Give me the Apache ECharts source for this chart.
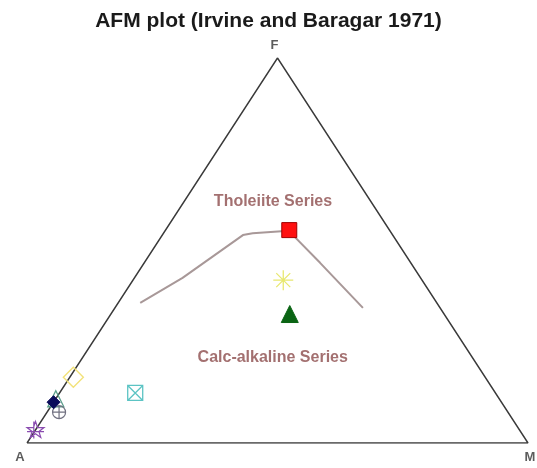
<!DOCTYPE html>
<html>
<head>
<meta charset="utf-8">
<script src="https://cdn.jsdelivr.net/npm/echarts@6/dist/echarts.min.js"></script>
<style>
  html, body { margin: 0; padding: 0; background: #fff; }
  #chart { width: 537px; height: 468px; }
</style>
</head>
<body>
<div id="chart"></div>
<script>
// AFM ternary values, all in % [A, F, M]
var vertexNames = ['A', 'F', 'M'];

// Irvine & Baragar boundary curve
var curveA = [59.2, 47.5, 29.9, 27.7, 20.2, 18.1, 15.4];
var curveF = [36.4, 42.9, 54.0, 54.5, 55.1, 46.8, 35.1];
var curveM = [4.4, 9.6, 16.1, 17.8, 24.7, 35.1, 49.5];

// samples
var sampleNames = ['s1', 's2', 's3', 's4', 's5', 's6', 's7', 's8', 's9'];
var sampleA = [20.0, 27.7, 30.8, 71.9, 82.2, 88.5, 89.4, 89.6, 96.6];
var sampleF = [55.3, 42.3, 33.5, 13.0, 17.1, 11.5, 10.6, 8.0, 3.4];
var sampleM = [24.7, 30.0, 35.7, 15.1, 0.7, 0.0, 0.0, 2.4, 0.0];

var fieldNames = ['Tholeiite Series', 'Calc-alkaline Series'];
var fieldA = [19.6, 39.8];
var fieldF = [62.6, 22.3];
var fieldM = [17.8, 37.9];

// ternary -> plot coords (x 0..100, y 0..100, apex at x=50)
function toXY(a, f, m) {
    var s = a + f + m;
    return [(m + f / 2) / s * 100, f / s * 100];
}

var chart = echarts.init(document.getElementById('chart'));

var curve = [];
for (var i = 0; i < curveA.length; i++) curve.push(toXY(curveA[i], curveF[i], curveM[i]));

var frame = [toXY(100, 0, 0), toXY(0, 100, 0), toXY(0, 0, 100), toXY(100, 0, 0)];

// marker styles per sample
var crossBox = 'path://M0,0L10,0L10,10L0,10ZM0,0L10,10M10,0L0,10';
var asterisk = 'path://M5,0L5,10M0,5L10,5M1.5,1.5L8.5,8.5M8.5,1.5L1.5,8.5';
var circCross = 'path://M0,5A5,5,0,1,0,10,5A5,5,0,1,0,0,5ZM5,0L5,10M0,5L10,5';
var starPath = 'path://M5,0L6.2,3.6L10,3.6L7,5.9L8.1,9.5L5,7.3L1.9,9.5L3,5.9L0,3.6L3.8,3.6ZM0,6L10,6M4,0L4,10';
var sampleStyle = [
    {symbol: 'rect', size: 15, color: '#ff1010', border: '#a00000', bw: 1},
    {symbol: asterisk, size: 20, color: 'none', border: '#e8e870', bw: 1.3},
    {symbol: 'triangle', size: 17, color: '#0a6414', border: '#0a6414', bw: 1},
    {symbol: crossBox, size: 15, color: 'none', border: '#5cc4c4', bw: 1.3},
    {symbol: 'diamond', size: 20, color: 'none', border: '#f2e27a', bw: 1.4},
    {symbol: 'triangle', size: 16, color: 'none', border: '#5a9e8a', bw: 1.3},
    {symbol: 'diamond', size: 13, color: '#0a0a5a', border: '#0a0a5a', bw: 1},
    {symbol: circCross, size: 13, color: 'none', border: '#707080', bw: 1.2},
    {symbol: starPath, size: 17, color: 'none', border: '#8a4cb0', bw: 1.2}
];

var series = [
    {
        type: 'line', data: frame, symbol: 'none', silent: true,
        lineStyle: {color: '#3a3a3a', width: 1.4}, z: 2
    },
    {
        type: 'line', data: curve, symbol: 'none', silent: true,
        lineStyle: {color: '#a89898', width: 2}, z: 3
    },
    {
        type: 'scatter', symbolSize: 0, silent: true, z: 4,
        data: [
            {value: toXY(100, 0, 0), label: {formatter: vertexNames[0], position: 'bottom', offset: [-7, 3]}},
            {value: toXY(0, 100, 0), label: {formatter: vertexNames[1], position: 'top', offset: [-3, -1]}},
            {value: toXY(0, 0, 100), label: {formatter: vertexNames[2], position: 'bottom', offset: [2, 3]}}
        ],
        label: {show: true, color: '#333', fontSize: 13, fontWeight: 'bold', fontFamily: 'Liberation Sans'}
    },
    {
        type: 'scatter', symbolSize: 0, silent: true, z: 4,
        data: fieldNames.map(function (n, k) {
            return {value: toXY(fieldA[k], fieldF[k], fieldM[k]), name: n};
        }),
        label: {
            show: true, position: 'inside', formatter: '{b}',
            color: '#8c4c4c', fontSize: 16, fontWeight: 'bold', fontFamily: 'Liberation Sans'
        }
    }
];

for (var j = 0; j < sampleNames.length; j++) {
    var st = sampleStyle[j];
    series.push({
        type: 'scatter', name: sampleNames[j], z: 10 + j,
        data: [toXY(sampleA[j], sampleF[j], sampleM[j])],
        symbol: st.symbol, symbolSize: st.size,
        itemStyle: {color: st.color, borderColor: st.border, borderWidth: st.bw, opacity: 1}
    });
}
// filled diamond drawn over the hollow triangle
series[series.length - 3].z = 30;

chart.setOption({
    backgroundColor: '#fff',
    animation: false,
    title: {
        text: 'AFM plot (Irvine and Baragar 1971)',
        left: 'center', top: 6,
        textStyle: {fontFamily: 'Liberation Sans', fontSize: 21, fontWeight: 'bold', color: '#1a1a1a'}
    },
    grid: {left: 27, right: 9, top: 58, bottom: 25},
    xAxis: {type: 'value', min: 0, max: 100, show: false},
    yAxis: {type: 'value', min: 0, max: 100, show: false},
    series: series
});
</script>
</body>
</html>
